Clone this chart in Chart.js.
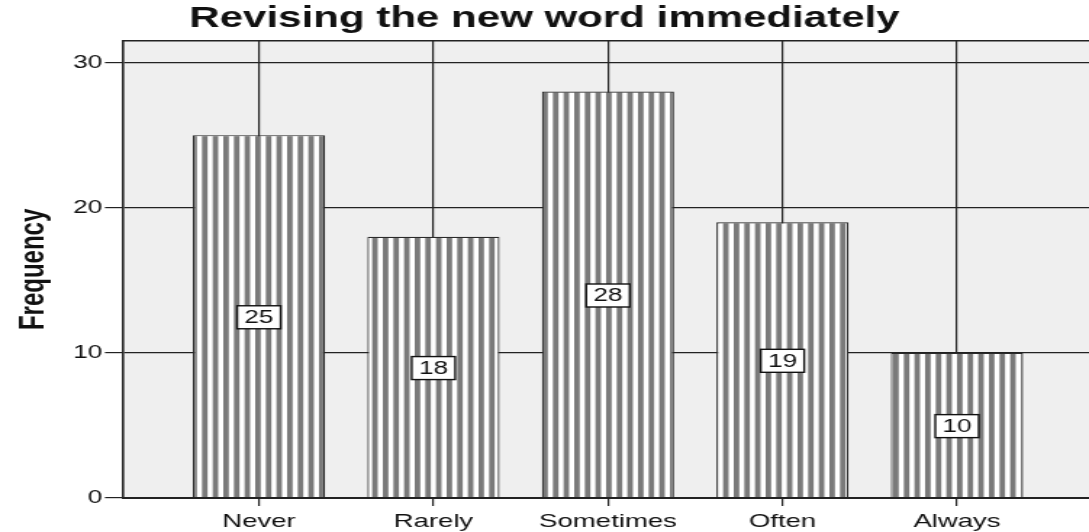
<!DOCTYPE html>
<html>
<head>
<meta charset="utf-8">
<title>Revising the new word immediately</title>
<script src="https://cdn.jsdelivr.net/npm/chart.js@4.4.1/dist/chart.umd.min.js"></script>
<style>
  html, body { margin: 0; padding: 0; background: #fff; overflow: hidden; }
  /* the chart is laid out narrow and widened horizontally, giving the wide lettering */
  #wrap { width: 751px; height: 532px; transform: scaleX(1.45); transform-origin: 0 0; }
  canvas { display: block; }
</style>
</head>
<body>
<div id="wrap"><canvas id="chart" width="751" height="532"></canvas></div>
<script>
// Survey responses
const categories = ['Never', 'Rarely', 'Sometimes', 'Often', 'Always'];
const frequencies = [25, 18, 28, 19, 10];
const yTicks = [0, 10, 20, 30];
const chartTitle = 'Revising the new word immediately';
const yTitle = 'Frequency';

const FONT = '"Liberation Sans", Arial, Helvetica, sans-serif';
const INK = '#222222';

// vertical hatch used to fill the bars
function stripePattern() {
  const c = document.createElement('canvas');
  c.width = 22; c.height = 8;
  const g = c.getContext('2d');
  g.fillStyle = '#ffffff';
  g.fillRect(0, 0, c.width, c.height);
  g.fillStyle = '#7a7a7a';
  for (let k = 0; k < 3; k++) {
    g.fillRect(k * (22 / 3), 0, 3.8, c.height);
  }
  return g.createPattern(c, 'repeat');
}

// plot background and the frame line along the top
const plotFrame = {
  id: 'plotFrame',
  beforeDraw(chart) {
    const { ctx, chartArea: a } = chart;
    ctx.save();
    ctx.fillStyle = '#ffffff';
    ctx.fillRect(0, 0, chart.width, chart.height);
    ctx.fillStyle = '#efefef';
    ctx.fillRect(a.left, a.top, a.right - a.left, a.bottom - a.top);
    ctx.restore();
  },
  afterDraw(chart) {
    const { ctx, chartArea: a } = chart;
    ctx.save();
    ctx.strokeStyle = INK;
    ctx.lineWidth = 1.6;
    ctx.beginPath();
    ctx.moveTo(a.left, a.top);
    ctx.lineTo(a.right, a.top);
    ctx.stroke();
    ctx.restore();
  }
};

// boxed count in the middle of each bar
const boxedValues = {
  id: 'boxedValues',
  afterDatasetsDraw(chart) {
    const { ctx } = chart;
    const meta = chart.getDatasetMeta(0);
    ctx.save();
    ctx.font = '18px ' + FONT;
    ctx.textAlign = 'center';
    ctx.textBaseline = 'middle';
    meta.data.forEach((bar, i) => {
      const v = chart.data.datasets[0].data[i].y;
      const cx = bar.x;
      const cy = (bar.y + bar.base) / 2 + 1;
      const w = 30, h = 23;
      ctx.fillStyle = '#ffffff';
      ctx.fillRect(cx - w / 2, cy - h / 2, w, h);
      ctx.strokeStyle = '#111';
      ctx.lineWidth = 1.4;
      ctx.strokeRect(cx - w / 2, cy - h / 2, w, h);
      ctx.fillStyle = '#111';
      ctx.fillText(String(v), cx, cy + 1);
    });
    ctx.restore();
  }
};

new Chart(document.getElementById('chart'), {
  type: 'bar',
  data: {
    datasets: [{
      label: yTitle,
      data: categories.map((c, i) => ({ x: i, y: frequencies[i] })),
      backgroundColor: stripePattern(),
      borderColor: '#2a2a2a',
      borderWidth: 1.2,
      categoryPercentage: 1,
      barPercentage: 0.757
    }]
  },
  options: {
    responsive: false,
    animation: false,
    devicePixelRatio: 1,
    layout: { padding: { left: 0, right: 0, top: 0, bottom: 0 } },
    plugins: {
      legend: { display: false },
      tooltip: { enabled: false },
      title: {
        display: true,
        text: chartTitle,
        color: '#111',
        font: { family: FONT, size: 29, weight: 'bold' },
        padding: { top: 2, bottom: 4 }
      }
    },
    scales: {
      x: {
        type: 'linear',
        min: -0.779,
        max: 4.756,
        offset: false,
        afterBuildTicks(axis) { axis.ticks = categories.map((c, i) => ({ value: i })); },
        afterFit(axis) { axis.height = 34; },
        ticks: {
          color: '#111',
          font: { family: FONT, size: 19 },
          padding: 4,
          maxRotation: 0,
          autoSkip: false,
          callback: (v) => categories[v]
        },
        grid: { offset: false, color: INK, lineWidth: 1.2, tickLength: 8, drawOnChartArea: true },
        border: { display: true, color: INK, width: 2, z: 1 }
      },
      y: {
        min: 0,
        max: 31.5,
        afterBuildTicks(axis) { axis.ticks = yTicks.map(v => ({ value: v })); },
        afterFit(axis) { axis.width = 84.8; },
        ticks: {
          color: '#111',
          font: { family: FONT, size: 18 },
          padding: 2,
          callback: (v) => String(v)
        },
        grid: { color: INK, lineWidth: 1.2, tickLength: 12.4 },
        border: { display: true, color: INK, width: 1.6, z: 1 },
        title: {
          display: true,
          text: yTitle,
          color: '#111',
          font: { family: FONT, size: 24, weight: 'bold' },
          padding: { top: 9, bottom: 0 }
        }
      }
    }
  },
  plugins: [plotFrame, boxedValues]
});
</script>
</body>
</html>
